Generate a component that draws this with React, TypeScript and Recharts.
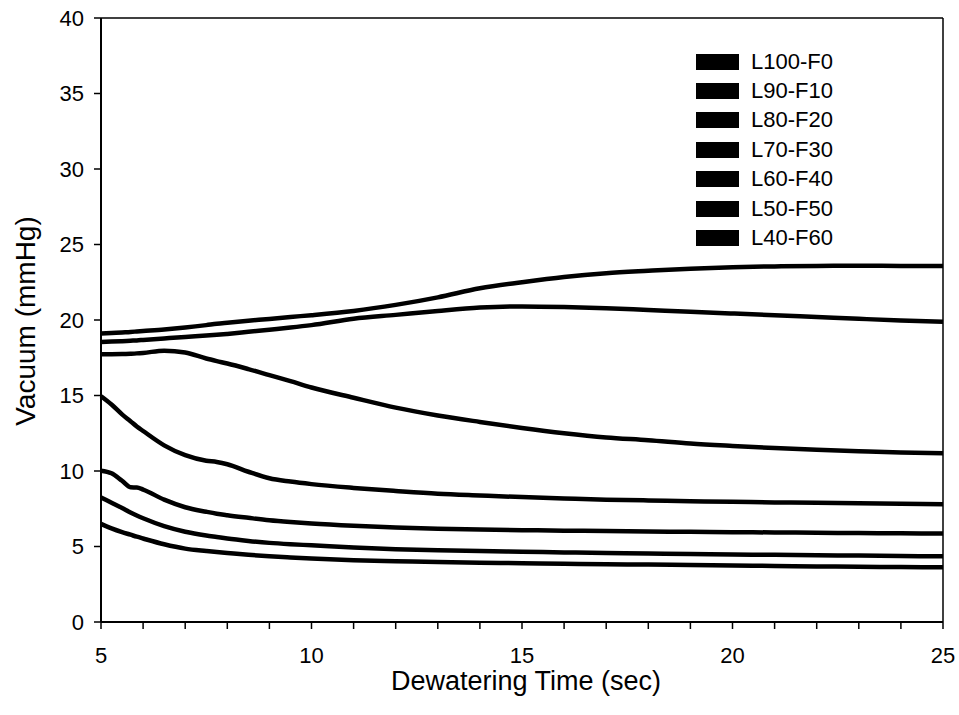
import React from 'react';
import { LineChart, Line, XAxis, YAxis, ReferenceLine, Legend } from 'recharts';

const time = [5, 5.25, 5.5, 5.7, 5.85, 6, 6.5, 7, 7.5, 7.75, 8, 8.5, 9, 9.5, 10, 11, 12, 13, 14, 15, 16, 17, 18, 19, 20, 21, 22, 23, 24, 25];

const seriesNames = ['L100-F0', 'L90-F10', 'L80-F20', 'L70-F30', 'L60-F40', 'L50-F50', 'L40-F60'];

const L100F0 = [19.1, 19.14, 19.18, 19.21, 19.24, 19.27, 19.37, 19.5, 19.66, 19.75, 19.82, 19.95, 20.07, 20.2, 20.32, 20.6, 21.0, 21.5, 22.1, 22.5, 22.85, 23.1, 23.26, 23.4, 23.5, 23.55, 23.58, 23.59, 23.58, 23.57];
const L90F10 = [18.55, 18.57, 18.6, 18.63, 18.65, 18.68, 18.78, 18.88, 18.97, 19.02, 19.08, 19.22, 19.36, 19.5, 19.66, 20.08, 20.34, 20.6, 20.82, 20.9, 20.86, 20.78, 20.66, 20.54, 20.43, 20.32, 20.2, 20.08, 19.97, 19.88];
const L80F20 = [17.74, 17.74, 17.75, 17.77, 17.79, 17.82, 17.97, 17.85, 17.45, 17.28, 17.12, 16.75, 16.35, 15.95, 15.53, 14.85, 14.2, 13.68, 13.25, 12.85, 12.5, 12.22, 12.04, 11.82, 11.66, 11.52, 11.4, 11.31, 11.23, 11.17];
const L70F30 = [14.95, 14.4, 13.75, 13.3, 12.95, 12.65, 11.7, 11.05, 10.68, 10.6, 10.45, 9.95, 9.52, 9.3, 9.13, 8.88, 8.68, 8.5, 8.38, 8.27, 8.18, 8.1, 8.05, 8.0, 7.96, 7.92, 7.89, 7.86, 7.83, 7.8];
const L60F40 = [10.02, 9.85, 9.35, 8.92, 8.9, 8.77, 8.1, 7.6, 7.3, 7.17, 7.07, 6.9, 6.74, 6.62, 6.52, 6.37, 6.26, 6.18, 6.12, 6.08, 6.05, 6.02, 6.0, 5.97, 5.95, 5.93, 5.91, 5.89, 5.87, 5.86];
const L50F50 = [8.25, 7.9, 7.55, 7.25, 7.05, 6.87, 6.35, 5.98, 5.73, 5.63, 5.53, 5.37, 5.24, 5.15, 5.08, 4.93, 4.82, 4.75, 4.7, 4.66, 4.61, 4.57, 4.53, 4.5, 4.47, 4.45, 4.42, 4.4, 4.37, 4.35];
const L40F60 = [6.5, 6.2, 5.95, 5.78, 5.65, 5.53, 5.15, 4.86, 4.7, 4.63, 4.57, 4.45, 4.35, 4.27, 4.2, 4.09, 4.03, 3.97, 3.93, 3.89, 3.85, 3.82, 3.8, 3.77, 3.74, 3.71, 3.68, 3.66, 3.64, 3.62];

const seriesValues = [L100F0, L90F10, L80F20, L70F30, L60F40, L50F50, L40F60];

const xTicks = [5, 6, 7, 8, 9, 10, 11, 12, 13, 14, 15, 16, 17, 18, 19, 20, 21, 22, 23, 24, 25];
const yTicks = [0, 5, 10, 15, 20, 25, 30, 35, 40];

const data = time.map((t, i) => {
  const row: Record<string, number> = { t };
  seriesNames.forEach((n, k) => {
    row[n] = seriesValues[k][i];
  });
  return row;
});

const FONT = '"Liberation Sans", Arial, sans-serif';

const renderLegend = () => (
  <div style={{ fontFamily: FONT }}>
    {seriesNames.map((n) => (
      <div key={n} style={{ display: 'flex', alignItems: 'center', height: 29.4 }}>
        <div style={{ width: 43, height: 16, background: '#000', marginRight: 12 }} />
        <span style={{ fontSize: 22, color: '#000', lineHeight: '22px' }}>{n}</span>
      </div>
    ))}
  </div>
);

export default function App() {
  return (
    <div style={{ width: 959, height: 715, overflow: 'hidden', position: 'relative' }}>
      <style>{'html,body{margin:0;padding:0;overflow:hidden;}'}</style>
      <LineChart
        width={959}
        height={715}
        data={data}
        margin={{ top: 18, right: 16, bottom: 33, left: 0 }}
        style={{ fontFamily: FONT }}
      >
        <XAxis
          dataKey="t"
          type="number"
          domain={[5, 25]}
          ticks={xTicks}
          interval={0}
          tickFormatter={(v: number) => (v % 5 === 0 ? String(v) : '')}
          height={60}
          tickSize={7}
          tickMargin={18}
          fontSize={22}
          axisLine={{ stroke: '#000', strokeWidth: 2 }}
          tickLine={{ stroke: '#000', strokeWidth: 1.5 }}
          tick={{ fill: '#000', fontSize: 22, fontFamily: FONT }}
          label={{ value: 'Dewatering Time (sec)', position: 'center', dy: 28, dx: 4, fill: '#000', fontSize: 27, fontFamily: FONT }}
        />
        <YAxis
          type="number"
          domain={[0, 40]}
          ticks={yTicks}
          interval={0}
          width={101}
          tickSize={7}
          tickMargin={10}
          fontSize={22}
          axisLine={{ stroke: '#000', strokeWidth: 2 }}
          tickLine={{ stroke: '#000', strokeWidth: 1.5 }}
          tick={{ fill: '#000', fontSize: 22, fontFamily: FONT }}
          label={{ value: 'Vacuum (mmHg)', angle: -90, position: 'center', dx: -25, dy: 1, fill: '#000', fontSize: 28, fontFamily: FONT }}
        />
        <ReferenceLine y={40} stroke="#000" strokeWidth={1.5} ifOverflow="visible" />
        <ReferenceLine x={25} stroke="#000" strokeWidth={1.5} ifOverflow="visible" />
        {seriesNames.map((n) => (
          <Line
            key={n}
            dataKey={n}
            name={n}
            type="monotone"
            stroke="#000"
            strokeWidth={4.5}
            dot={false}
            activeDot={false}
            isAnimationActive={false}
          />
        ))}
        <Legend
          layout="horizontal"
          align="center"
          verticalAlign="middle"
          content={renderLegend}
          wrapperStyle={{ position: 'absolute', left: 696, top: 47, width: 200, height: 210 }}
        />
      </LineChart>
    </div>
  );
}
